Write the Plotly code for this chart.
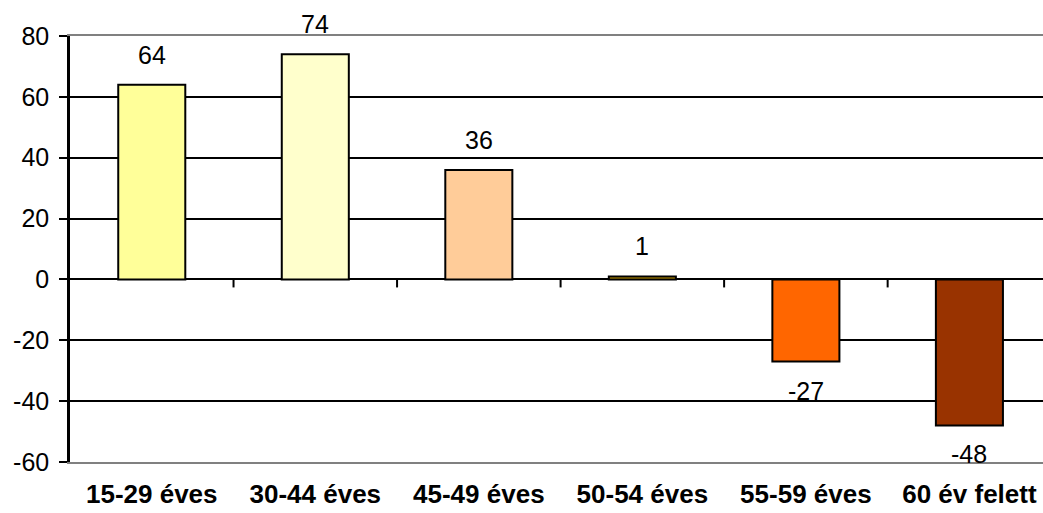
import plotly.graph_objects as go

categories = ["15-29 éves", "30-44 éves", "45-49 éves", "50-54 éves", "55-59 éves", "60 év felett"]
values = [64, 74, 36, 1, -27, -48]
bar_colors = ["#FFFF99", "#FFFFCC", "#FFCC99", "#C89A00", "#FF6600", "#993300"]
y_ticks = [-60, -40, -20, 0, 20, 40, 60, 80]
y_tick_text = [str(t) for t in y_ticks]

FONT = "Liberation Sans, Arial, sans-serif"

fig = go.Figure()
fig.add_trace(go.Bar(
    x=list(range(len(categories))),
    y=values,
    marker=dict(color=bar_colors, line=dict(color="black", width=2)),
    width=0.41,
    hoverinfo="skip",
))

# value labels above positive bars and below negative ones
for i, v in enumerate(values):
    fig.add_annotation(
        x=i, y=v, text=str(v), showarrow=False,
        yanchor="middle", yshift=30 if v >= 0 else -29,
        font=dict(family=FONT, size=25, color="black"),
    )

# small tick marks on the zero line between categories
for k in range(len(categories) - 1):
    fig.add_shape(
        type="line", xref="x", yref="y",
        x0=k + 0.5, x1=k + 0.5,
        ysizemode="pixel", yanchor=0, y0=0, y1=-8,
        line=dict(color="black", width=2),
    )

fig.update_layout(
    width=1043, height=513,
    margin=dict(l=70, r=0, t=36, b=51),
    paper_bgcolor="white", plot_bgcolor="white",
    showlegend=False,
    font=dict(family=FONT, size=25, color="black"),
    xaxis=dict(
        range=[-0.5, len(categories) - 0.55],
        tickmode="array",
        tickvals=list(range(len(categories))),
        ticktext=categories,
        tickfont=dict(family=FONT, size=26, color="black", weight="bold"),
        ticks="", showgrid=False, zeroline=False,
        showline=True, linecolor="#808080", linewidth=2, mirror=True,
        ticklabelstandoff=8, automargin=False,
    ),
    yaxis=dict(
        range=[-60, 80],
        tickmode="array", tickvals=y_ticks, ticktext=y_tick_text,
        ticks="outside", ticklen=8, tickwidth=2, tickcolor="black",
        showgrid=True, gridcolor="black", gridwidth=1.5,
        zeroline=True, zerolinecolor="black", zerolinewidth=2,
        showline=True, linecolor="black", linewidth=2.5,
        tickfont=dict(family=FONT, size=25, color="black"),
        ticklabelstandoff=5, automargin=False,
    ),
)

fig.write_html("out.html")
